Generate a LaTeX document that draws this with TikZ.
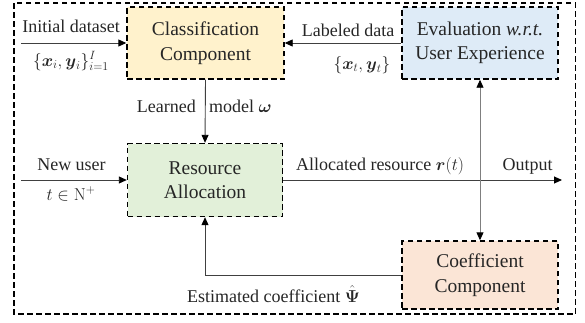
\documentclass[tikz,border=0pt]{standalone}
\usepackage{amsmath}
\usepackage[no-math]{fontspec}
\setmainfont{Liberation Serif}
\usetikzlibrary{arrows.meta}
\definecolor{txt}{HTML}{262626}
\definecolor{lin}{HTML}{404040}
\definecolor{lgray}{HTML}{7F7F7F}
\definecolor{fyel}{HTML}{FFF2CC}
\definecolor{fblu}{HTML}{DEEBF7}
\definecolor{fgrn}{HTML}{E2F0D9}
\definecolor{fpch}{HTML}{FBE5D6}
\tikzset{
  comp/.style={draw=black, line width=1.4pt, dash pattern=on 5.5pt off 3.5pt,
    inner sep=0pt, align=center, text=txt,
    font=\fontsize{19.5}{24.5}\selectfont},
  lbl/.style={text=txt, inner sep=0pt, anchor=base, font=\fontsize{18}{21}\selectfont},
  conn/.style={draw=lin, line width=0.9pt, -{Triangle[length=8pt,width=7pt,color=black]}},
}
\begin{document}
\begin{tikzpicture}[x=1pt,y=-1pt]
\useasboundingbox (0,0) rectangle (585,322);
\draw[black, line width=1.1pt, dash pattern=on 5.5pt off 3.5pt] (14,3) rectangle (575.5,314);

\node[comp, fill=fyel, minimum width=157pt, minimum height=72pt] (class) at (205.5,43) {Classification\\Component};
\node[comp, fill=fblu, minimum width=156pt, minimum height=72pt] (eval) at (480,43) {Evaluation \textit{w.r.t.}\\User Experience};
\node[comp, fill=fgrn, minimum width=155pt, minimum height=73pt] (res) at (205,180) {Resource\\Allocation};
\node[comp, fill=fpch, minimum width=156pt, minimum height=68pt] (coef) at (480,275) {Coefficient\\Component};

\coordinate (in1) at (21,43);
\coordinate (in2) at (21,180);
\coordinate (out) at (562,180);

\draw[conn] (in1) -- (class.west);
\draw[conn] (eval.west) -- (class.east);
\draw[conn] (class.south) -- (res.north);
\draw[conn] (in2) -- (res.west);
\draw[conn] (res.east) -- (out);
\draw[conn] (coef.west) -| (res.south);
\draw[draw=lgray, line width=0.9pt, {Triangle[length=8pt,width=7pt,color=black]}-{Triangle[length=8pt,width=7pt,color=black]}] (eval.south) -- (coef.north);

\node[lbl] (l1) at (71,32) {Initial dataset};
\node[lbl] (l2) at (71,66) {$\{\boldsymbol{x}_i,\boldsymbol{y}_i\}_{i=1}^{I}$};
\node[lbl] (l3) at (348,36) {Labeled data};
\node[lbl] (l4) at (362,69) {$\{\boldsymbol{x}_t,\boldsymbol{y}_t\}$};
\node[lbl, anchor=base east] (l5) at (196,112.5) {Learned};
\node[lbl, anchor=base west] (l6) at (209,112.5) {model $\boldsymbol{\omega}$};
\node[lbl] (l7) at (71.5,170) {New user};
\node[lbl] (l8) at (71,200) {$t\in\mathrm{N}^{+}$};
\node[lbl] (l9) at (380,170.5) {Allocated resource $\boldsymbol{r}(t)$};
\node[lbl] (l10) at (527.5,170.5) {Output};
\node[lbl, anchor=base west] (l11) at (187,302) {Estimated coefficient $\hat{\mathbf{\Psi}}$};
\end{tikzpicture}
\end{document}
